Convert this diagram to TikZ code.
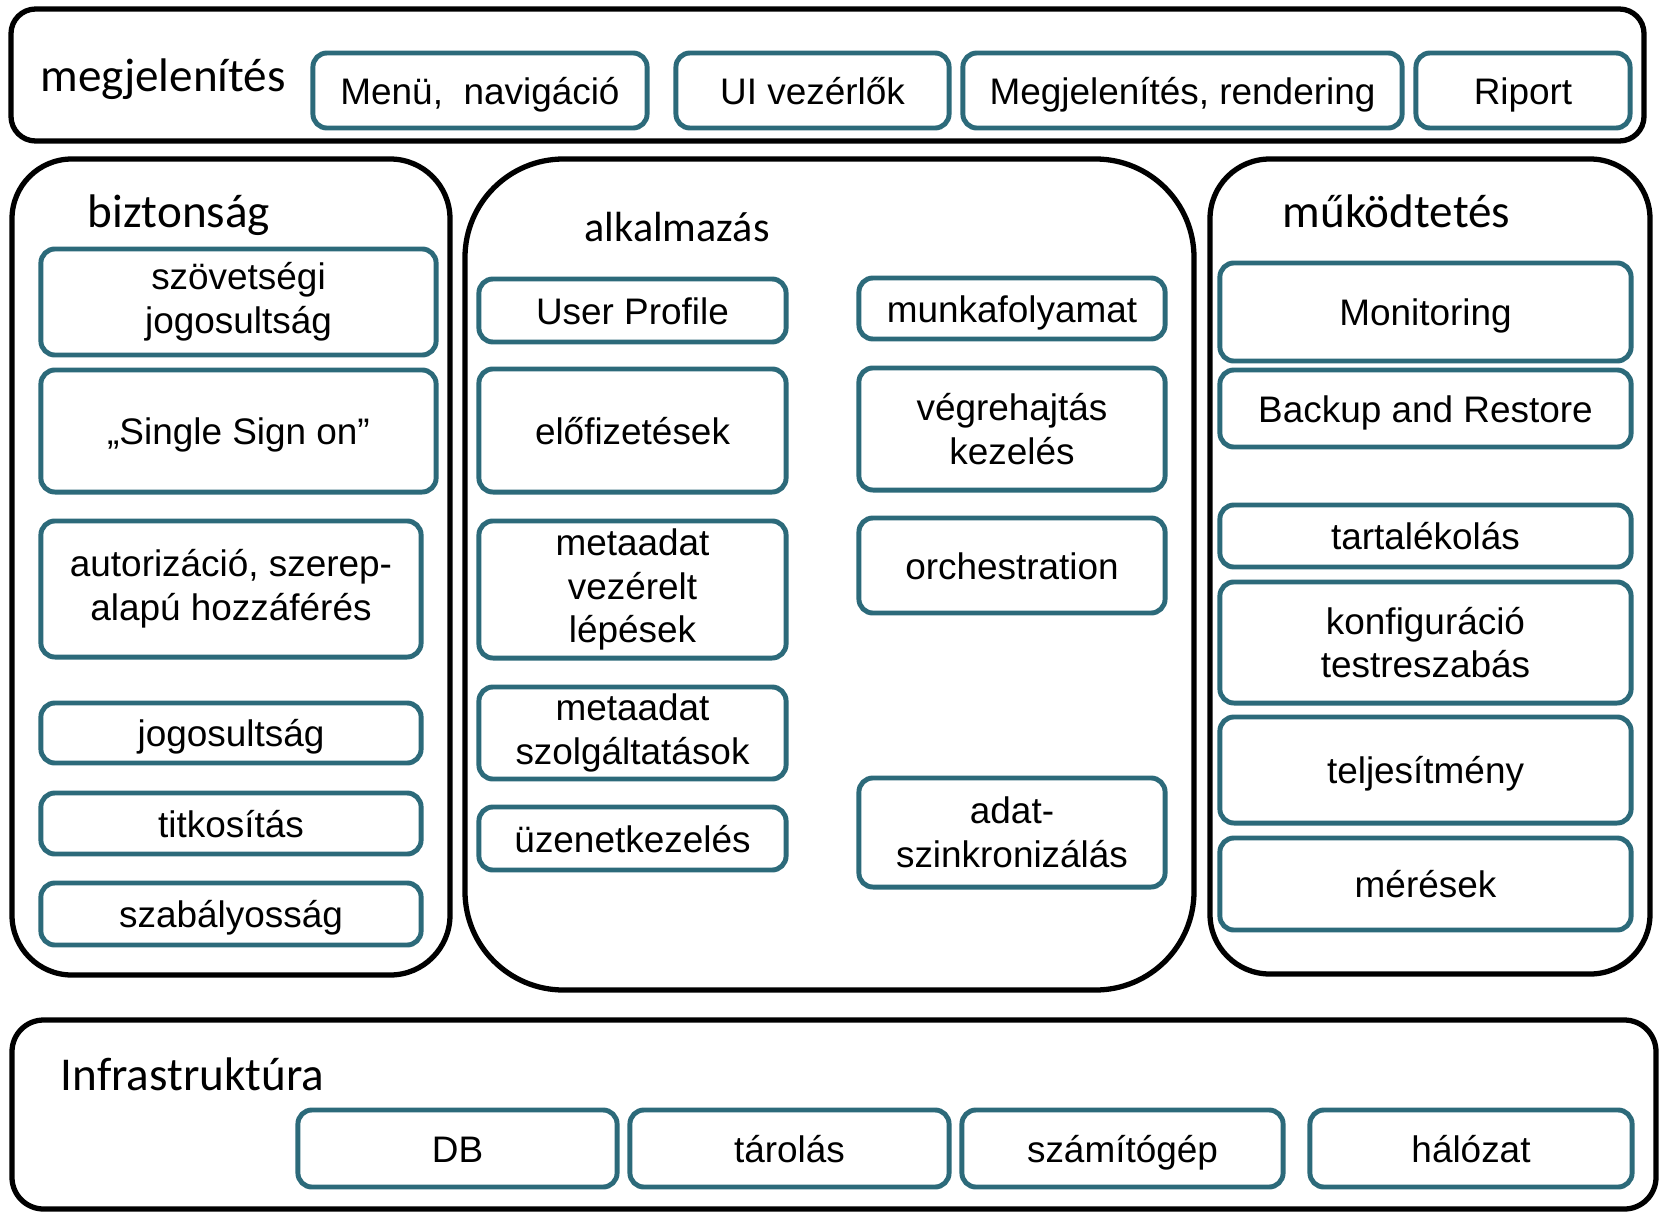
\documentclass[tikz,border=0pt]{standalone}
\usepackage{fontspec}
\setmainfont{Liberation Sans}
\newfontfamily\headfont{Carlito}
\usepackage{tikz}
\definecolor{boxteal}{RGB}{44,106,122}

\begin{document}
\begin{tikzpicture}[x=0.01cm, y=-0.01cm,
    layer/.style={draw=black, line width=1.5pt},
    comp/.style={draw=boxteal, line width=1.4pt, rounded corners=4pt, align=center,
        inner sep=0pt, font=\fontsize{10.5}{12.4}\selectfont},
    oneline/.style={comp, text height=9pt, text depth=1.3pt},
    title/.style={anchor=base west, inner sep=0pt, font=\headfont\fontsize{13.4}{16}\selectfont}]
    \useasboundingbox (0,0) rectangle (1660,1212);

    % megjelenites sor
    \draw[layer, rounded corners=7pt] (11,9) rectangle (1644,141);
    \node[title] (prestitle) at (40,91) {megjelenítés};
    \node[oneline, minimum width=3.34cm, minimum height=0.75cm] (menu) at (480,90.5) {Menü,~ navigáció};
    \node[oneline, minimum width=2.73cm, minimum height=0.75cm] (uictl) at (812.5,90.5) {UI vezérlők};
    \node[oneline, minimum width=4.39cm, minimum height=0.75cm] (render) at (1182.5,90.5) {Megjelenítés, rendering};
    \node[oneline, minimum width=2.14cm, minimum height=0.75cm] (report) at (1523,90.5) {Riport};

    % biztonsag oszlop
    \draw[layer, rounded corners=17pt] (12,159) rectangle (450,975);
    \node[title] (sectitle) at (87,227) {biztonság};
    \node[comp, minimum width=3.95cm, minimum height=1.06cm] (fed) at (238.5,302) {szövetségi\\jogosultság};
    \node[oneline, minimum width=3.95cm, minimum height=1.22cm] (sso) at (238.5,431) {„Single Sign on”};
    \node[comp, minimum width=3.80cm, minimum height=1.36cm] (authz) at (231,589) {autorizáció, szerep-\\alapú hozzáférés};
    \node[oneline, minimum width=3.80cm, minimum height=0.60cm] (perm) at (231,733) {jogosultság};
    \node[oneline, minimum width=3.80cm, minimum height=0.61cm] (crypt) at (231,823.5) {titkosítás};
    \node[oneline, minimum width=3.80cm, minimum height=0.62cm] (compl) at (231,914) {szabályosság};

    % alkalmazas oszlop
    \draw[layer, rounded corners=28pt] (465,159) rectangle (1194,990);
    \node[title, font=\headfont\fontsize{12}{14}\selectfont] (apptitle) at (584,241) {alkalmazás};
    \node[oneline, minimum width=3.07cm, minimum height=0.63cm] (profile) at (632.5,310.5) {User Profile};
    \node[oneline, minimum width=3.07cm, minimum height=1.23cm] (subs) at (632.5,430.5) {előfizetések};
    \node[comp, minimum width=3.07cm, minimum height=1.37cm] (metasteps) at (632.5,589.5) {metaadat\\vezérelt\\lépések};
    \node[comp, minimum width=3.07cm, minimum height=0.92cm] (metasvc) at (632.5,733) {metaadat\\szolgáltatások};
    \node[oneline, minimum width=3.07cm, minimum height=0.63cm] (msg) at (632.5,838.5) {üzenetkezelés};
    \node[oneline, minimum width=3.06cm, minimum height=0.61cm] (workflow) at (1012,308.5) {munkafolyamat};
    \node[comp, minimum width=3.06cm, minimum height=1.22cm] (exec) at (1012,429) {végrehajtás\\kezelés};
    \node[oneline, minimum width=3.06cm, minimum height=0.95cm] (orch) at (1012,565.5) {orchestration};
    \node[comp, minimum width=3.06cm, minimum height=1.09cm] (sync) at (1012,832.5) {adat-\\szinkronizálás};

    % mukodtetes oszlop
    \draw[layer, rounded corners=17pt] (1210,159) rectangle (1650,974);
    \node[title] (opstitle) at (1282,227) {működtetés};
    \node[oneline, minimum width=4.11cm, minimum height=0.98cm] (monitor) at (1425.5,312) {Monitoring};
    \node[oneline, minimum width=4.11cm, minimum height=0.77cm] (backup) at (1425.5,408.5) {Backup and Restore};
    \node[oneline, minimum width=4.11cm, minimum height=0.62cm] (reserve) at (1425.5,536) {tartalékolás};
    \node[comp, minimum width=4.11cm, minimum height=1.21cm] (config) at (1425.5,642.5) {konfiguráció\\testreszabás};
    \node[oneline, minimum width=4.11cm, minimum height=1.06cm] (perf) at (1425.5,770) {teljesítmény};
    \node[oneline, minimum width=4.11cm, minimum height=0.92cm] (measure) at (1425.5,884) {mérések};

    % infrastruktura sor
    \draw[layer, rounded corners=9pt] (12,1020) rectangle (1656,1209);
    \node[title] (infratitle) at (60,1090) {Infrastruktúra};
    \node[oneline, minimum width=3.19cm, minimum height=0.77cm] (db) at (457.5,1148.5) {DB};
    \node[oneline, minimum width=3.19cm, minimum height=0.77cm] (store) at (789.5,1148.5) {tárolás};
    \node[oneline, minimum width=3.21cm, minimum height=0.77cm] (compute) at (1122.5,1148.5) {számítógép};
    \node[oneline, minimum width=3.22cm, minimum height=0.77cm] (net) at (1471,1148.5) {hálózat};
\end{tikzpicture}
\end{document}
